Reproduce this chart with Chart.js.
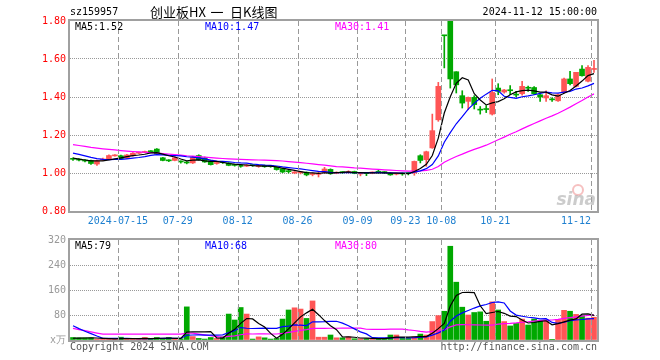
<!DOCTYPE html>
<html>
<head>
<meta charset="utf-8">
<script src="https://cdn.jsdelivr.net/npm/chart.js@4"></script>
<style>
  body { margin: 0; background: #fff; }
  #wrap { position: relative; width: 660px; height: 360px; background: #fff; }
  #priceChart { position: absolute; left: 0; top: 0; }
  #volChart { position: absolute; left: 0; top: 230px; }
</style>
</head>
<body>
<div id="wrap">
  <canvas id="priceChart" width="660" height="230"></canvas>
  <canvas id="volChart" width="660" height="130"></canvas>
</div>
<script>
const dates = [
  '2024-07-03','2024-07-04','2024-07-05','2024-07-08','2024-07-09','2024-07-10','2024-07-11','2024-07-12','2024-07-15','2024-07-16',
  '2024-07-17','2024-07-18','2024-07-19','2024-07-22','2024-07-23','2024-07-24','2024-07-25','2024-07-26','2024-07-29','2024-07-30',
  '2024-07-31','2024-08-01','2024-08-02','2024-08-05','2024-08-06','2024-08-07','2024-08-08','2024-08-09','2024-08-12','2024-08-13',
  '2024-08-14','2024-08-15','2024-08-16','2024-08-19','2024-08-20','2024-08-21','2024-08-22','2024-08-23','2024-08-26','2024-08-27',
  '2024-08-28','2024-08-29','2024-08-30','2024-09-02','2024-09-03','2024-09-04','2024-09-05','2024-09-06','2024-09-09','2024-09-10',
  '2024-09-11','2024-09-12','2024-09-13','2024-09-18','2024-09-19','2024-09-20','2024-09-23','2024-09-24','2024-09-25','2024-09-26',
  '2024-09-27','2024-09-30','2024-10-08','2024-10-09','2024-10-10','2024-10-11','2024-10-14','2024-10-15','2024-10-16','2024-10-17',
  '2024-10-18','2024-10-21','2024-10-22','2024-10-23','2024-10-24','2024-10-25','2024-10-28','2024-10-29','2024-10-30','2024-10-31',
  '2024-11-01','2024-11-04','2024-11-05','2024-11-06','2024-11-07','2024-11-08','2024-11-11','2024-11-12'
];

const open = [
  1.076,1.073,1.066,1.066,1.047,1.068,1.074,1.090,1.091,1.078,
  1.091,1.104,1.108,1.115,1.126,1.080,1.066,1.066,1.060,1.056,
  1.053,1.092,1.080,1.064,1.050,1.057,1.053,1.042,1.038,1.036,
  1.041,1.034,1.040,1.036,1.030,1.023,1.010,1.000,1.001,1.004,
  0.992,0.993,1.003,1.019,0.999,1.004,1.003,1.008,0.995,0.999,
  1.000,1.006,1.004,0.999,0.994,0.997,0.998,1.000,1.091,1.070,
  1.132,1.280,1.725,1.810,1.533,1.407,1.377,1.398,1.336,1.339,
  1.310,1.447,1.426,1.437,1.415,1.417,1.450,1.450,1.412,1.395,
  1.389,1.380,1.424,1.495,1.456,1.547,1.483,1.545
];
const high = [
  1.080,1.076,1.070,1.068,1.068,1.078,1.095,1.097,1.094,1.098,
  1.108,1.110,1.116,1.118,1.128,1.082,1.070,1.085,1.064,1.060,
  1.088,1.096,1.084,1.066,1.058,1.060,1.055,1.046,1.040,1.044,
  1.044,1.040,1.042,1.038,1.032,1.025,1.014,1.008,1.007,1.006,
  1.000,1.008,1.030,1.022,1.006,1.007,1.012,1.010,1.000,1.003,
  1.006,1.015,1.007,1.002,1.000,1.000,1.003,1.063,1.096,1.115,
  1.310,1.477,1.725,1.810,1.533,1.433,1.400,1.407,1.350,1.355,
  1.495,1.470,1.440,1.460,1.430,1.483,1.457,1.455,1.417,1.433,
  1.395,1.415,1.500,1.535,1.530,1.565,1.565,1.593
];
const low = [
  1.066,1.064,1.058,1.045,1.040,1.066,1.072,1.088,1.072,1.076,
  1.089,1.100,1.106,1.108,1.098,1.064,1.060,1.064,1.052,1.048,
  1.050,1.068,1.056,1.042,1.046,1.050,1.038,1.036,1.030,1.034,
  1.035,1.030,1.030,1.030,1.015,1.002,1.000,0.996,0.995,0.985,
  0.985,0.979,1.000,0.993,0.996,0.998,1.000,0.996,0.985,0.986,
  0.996,1.000,0.998,0.988,0.990,0.988,0.990,0.988,1.053,1.035,
  1.130,1.272,1.553,1.447,1.421,1.342,1.333,1.337,1.310,1.318,
  1.305,1.412,1.420,1.412,1.400,1.410,1.430,1.412,1.377,1.377,
  1.377,1.377,1.420,1.464,1.453,1.510,1.480,1.530
];
const close = [
  1.072,1.068,1.063,1.050,1.064,1.074,1.092,1.093,1.075,1.095,
  1.104,1.107,1.112,1.112,1.100,1.066,1.064,1.080,1.058,1.053,
  1.082,1.070,1.058,1.044,1.053,1.055,1.040,1.040,1.035,1.040,
  1.039,1.036,1.033,1.034,1.018,1.005,1.007,1.004,1.004,0.990,
  0.996,0.996,1.021,0.996,1.003,1.002,1.008,0.998,0.998,0.997,
  1.003,1.004,1.002,0.990,0.997,0.995,0.997,1.061,1.066,1.112,
  1.223,1.456,1.722,1.495,1.464,1.368,1.398,1.360,1.331,1.334,
  1.424,1.430,1.437,1.433,1.410,1.456,1.446,1.417,1.400,1.407,
  1.385,1.412,1.495,1.470,1.530,1.512,1.556,1.548
];
// volume in 万
const volume = [
  8,7,7,7,3,3,3,3,9,3,
  3,4,8,4,8,4,8,3,4,106,
  11,5,3,8,5,10,83,64,104,83,
  3,10,7,3,5,67,96,103,99,69,
  125,9,9,16,7,7,10,4,4,4,
  4,5,5,16,16,5,5,10,19,16,
  59,78,92,300,185,105,80,88,90,60,
  122,96,59,45,53,67,48,67,62,64,
  2,66,95,92,82,78,70,73
];

// sessions before 07-03, only used so the moving averages start where the picture shows them
const preClose = [
  1.200,1.195,1.198,1.190,1.185,1.188,1.180,1.176,1.178,1.170,
  1.168,1.165,1.160,1.162,1.158,1.155,1.150,1.148,1.150,1.145,
  1.140,1.136,1.130,1.127,1.122,1.098,1.085,1.072,1.067
];
const preVolume = [
  120,110,125,115,110,5,5,5,5,5,
  5,5,5,5,5,5,5,5,5,5,
  100,90,85,80,75,5,5,5,5
];

const tickDates = ['2024-07-15','2024-07-29','2024-08-12','2024-08-26','2024-09-09','2024-09-23','2024-10-08','2024-10-21','2024-11-12'];
const tickText = ['2024-07-15','07-29','08-12','08-26','09-09','09-23','10-08','10-21','11-12     '];

const mono = "'DejaVu Sans Mono', monospace";
const upColor = '#ff5555';
const downColor = '#00a800';

function movingAvg(values, pre, n) {
  const all = pre.concat(values);
  return values.map((v, i) => {
    const end = pre.length + i;
    if (end + 1 < n) return null;
    let s = 0;
    for (let k = end - n + 1; k <= end; k++) s += all[k];
    return s / n;
  });
}
function trunc(v, d) {
  const p = Math.pow(10, d);
  return (Math.floor(v * p + 1e-9) / p).toFixed(d);
}

const ma5 = movingAvg(close, preClose, 5);
const ma10 = movingAvg(close, preClose, 10);
const ma30 = movingAvg(close, preClose, 30);
const vma5 = movingAvg(volume, preVolume, 5);
const vma10 = movingAvg(volume, preVolume, 10);
const vma30 = movingAvg(volume, preVolume, 30);

const last = dates.length - 1;
const colors = close.map((c, i) => (c >= open[i] ? upColor : downColor));

// dashed date lines on the left edge of each labelled session, and the box round the plot
const frame = {
  id: 'frame',
  afterDatasetsDraw(chart) {
    const { ctx, chartArea: a } = chart;
    const x = chart.scales.x;
    const half = (x.getPixelForValue(1) - x.getPixelForValue(0)) / 2;
    ctx.save();
    ctx.globalAlpha = 1;
    ctx.globalCompositeOperation = 'source-over';
    ctx.fillStyle = '#999999';
    tickDates.forEach((d) => {
      const px = Math.round(x.getPixelForValue(dates.indexOf(d)) - half);
      for (let y = Math.round(a.top); y < a.bottom; y += 8) {
        ctx.fillRect(px, y, 1, Math.min(5, a.bottom - y));
      }
    });
    ctx.restore();
  },
  afterDraw(chart) {
    const { ctx, chartArea: a } = chart;
    ctx.save();
    ctx.strokeStyle = '#a0a0a0';
    ctx.lineWidth = 2;
    ctx.strokeRect(a.left - 1, a.top - 1, a.right - a.left + 2, a.bottom - a.top + 2);
    ctx.restore();
  }
};

function text(ctx, str, x, y, color, font, align) {
  ctx.fillStyle = color;
  ctx.font = font;
  ctx.textAlign = align || 'left';
  ctx.textBaseline = 'middle';
  ctx.fillText(str, x, y);
}

const priceText = {
  id: 'priceText',
  afterDraw(chart) {
    const ctx = chart.ctx;
    ctx.save();
    const cjk = "13px 'Noto Sans CJK SC'";
    text(ctx, 'sz159957', 70, 12, '#000', '10px ' + mono);
    text(ctx, '创业板HX', 150, 12, '#000', cjk);
    text(ctx, '一', 217, 12, '#000', cjk, 'center');
    text(ctx, '日K线图', 230, 12, '#000', cjk);
    text(ctx, '2024-11-12 15:00:00', 597, 12, '#000', '10px ' + mono, 'right');
    text(ctx, 'MA5:' + trunc(ma5[last], 2), 75, 27, '#000', '10px ' + mono);
    text(ctx, 'MA10:' + trunc(ma10[last], 2), 205, 27, '#0000ff', '10px ' + mono);
    text(ctx, 'MA30:' + trunc(ma30[last], 2), 335, 27, '#ff00ff', '10px ' + mono);
    // sina watermark
    ctx.strokeStyle = 'rgba(240,150,150,0.6)';
    ctx.lineWidth = 2;
    ctx.beginPath();
    ctx.arc(578, 190, 5, 0, Math.PI * 2);
    ctx.stroke();
    ctx.fillStyle = 'rgba(170,170,170,0.6)';
    ctx.font = "italic bold 17px 'DejaVu Sans'";
    ctx.textAlign = 'right';
    ctx.textBaseline = 'alphabetic';
    ctx.fillText('sina', 596, 205);
    ctx.restore();
  }
};

const volText = {
  id: 'volText',
  afterDraw(chart) {
    const ctx = chart.ctx;
    ctx.save();
    text(ctx, 'MA5:' + trunc(vma5[last], 0), 75, 16, '#000', '10px ' + mono);
    text(ctx, 'MA10:' + trunc(vma10[last], 0), 205, 16, '#0000ff', '10px ' + mono);
    text(ctx, 'MA30:' + trunc(vma30[last], 0), 335, 16, '#ff00ff', '10px ' + mono);
    text(ctx, 'Copyright 2024 SINA.COM', 70, 117, '#555', '10px ' + mono);
    text(ctx, 'http://finance.sina.com.cn', 597, 117, '#555', '10px ' + mono, 'right');
    ctx.restore();
  }
};

function maLine(data, color) {
  return {
    type: 'line',
    data: data,
    borderColor: color,
    borderWidth: 1.2,
    pointRadius: 0,
    tension: 0,
    order: 0
  };
}

new Chart(document.getElementById('priceChart'), {
  type: 'bar',
  data: {
    labels: dates,
    datasets: [
      {
        data: dates.map((d, i) => [low[i], high[i]]),
        backgroundColor: colors,
        barThickness: 1,
        grouped: false,
        order: 2
      },
      {
        data: dates.map((d, i) => [open[i], close[i]]),
        backgroundColor: colors,
        barThickness: 5,
        minBarLength: 1,
        grouped: false,
        order: 1
      },
      maLine(ma5, '#000000'),
      maLine(ma10, '#0000ff'),
      maLine(ma30, '#ff00ff')
    ]
  },
  options: {
    responsive: false,
    animation: false,
    events: [],
    layout: { padding: { top: 21, right: 63, left: 0, bottom: 0 } },
    plugins: { legend: { display: false }, tooltip: { enabled: false } },
    scales: {
      x: {
        type: 'category',
        offset: true,
        grid: { display: false, drawTicks: false },
        border: { display: false },
        ticks: {
          autoSkip: false,
          maxRotation: 0,
          padding: 4,
          labelOffset: -3,
          color: '#1f80d0',
          font: { family: mono, size: 10 },
          callback: (v, i) => {
            const k = tickDates.indexOf(dates[i]);
            return k >= 0 ? tickText[k] : '';
          }
        },
        afterFit: (s) => { s.height = 19; }
      },
      y: {
        min: 0.8,
        max: 1.8,
        grid: {
          drawTicks: false,
          color: (ctx) => (ctx.tick && ctx.tick.value > 0.81 && ctx.tick.value < 1.79 ? '#999999' : 'rgba(0,0,0,0)')
        },
        border: { display: false, dash: [1, 1] },
        ticks: {
          stepSize: 0.2,
          padding: 4,
          color: '#ff0000',
          font: { family: mono, size: 10 },
          callback: (v) => v.toFixed(2)
        },
        afterFit: (s) => { s.width = 70; }
      }
    }
  },
  plugins: [frame, priceText]
});

new Chart(document.getElementById('volChart'), {
  type: 'bar',
  data: {
    labels: dates,
    datasets: [
      {
        data: volume,
        backgroundColor: colors,
        barThickness: 5,
        grouped: false,
        order: 1
      },
      maLine(vma5, '#000000'),
      maLine(vma10, '#0000ff'),
      maLine(vma30, '#ff00ff')
    ]
  },
  options: {
    responsive: false,
    animation: false,
    events: [],
    layout: { padding: { top: 10, right: 63, left: 0, bottom: 0 } },
    plugins: { legend: { display: false }, tooltip: { enabled: false } },
    scales: {
      x: {
        type: 'category',
        offset: true,
        grid: { display: false, drawTicks: false },
        border: { display: false },
        ticks: { display: false },
        afterFit: (s) => { s.height = 20; }
      },
      y: {
        min: 0,
        max: 320,
        grid: {
          drawTicks: false,
          color: (ctx) => (ctx.tick && ctx.tick.value > 0 && ctx.tick.value < 320 ? '#999999' : 'rgba(0,0,0,0)')
        },
        border: { display: false, dash: [1, 1] },
        ticks: {
          stepSize: 80,
          padding: 4,
          color: '#999999',
          font: { family: mono, size: 10 },
          callback: (v) => (v === 0 ? 'x万' : v)
        },
        afterFit: (s) => { s.width = 70; }
      }
    }
  },
  plugins: [frame, volText]
});
</script>
</body>
</html>
